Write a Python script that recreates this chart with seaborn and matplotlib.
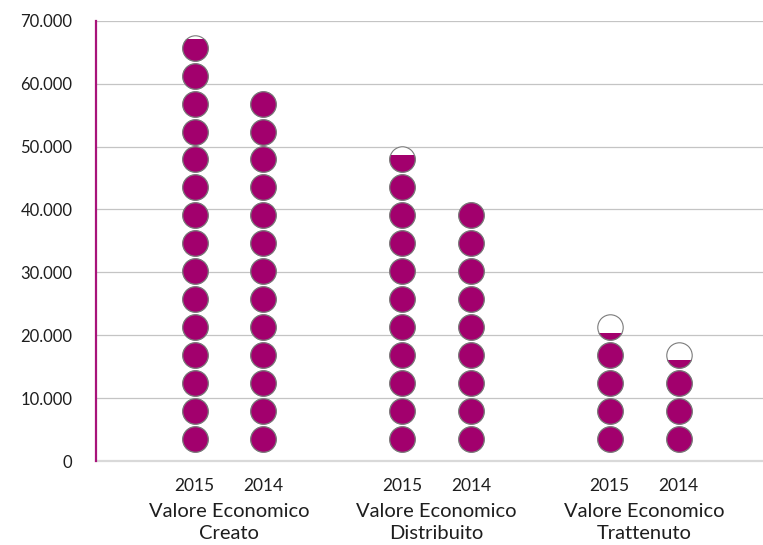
import numpy as np
import pandas as pd
import matplotlib
matplotlib.use("Agg")
import matplotlib.pyplot as plt
from matplotlib.patches import Rectangle
import seaborn as sns

# ---- data ----
groups = ["Valore Economico\nCreato", "Valore Economico\nDistribuito", "Valore Economico\nTrattenuto"]
years = ["2015", "2014"]
values_2015 = [67100, 48600, 20300]
values_2014 = [59000, 41200, 16000]
y_ticks = [0, 10000, 20000, 30000, 40000, 50000, 60000, 70000]
y_tick_labels = ["0", "10.000", "20.000", "30.000", "40.000", "50.000", "60.000", "70.000"]

# ---- style ----
sns.set_theme(style="white")
plt.rcParams["font.family"] = ["Lato", "DejaVu Sans"]
FILL = "#a2006d"
EDGE = "#7a7a7a"
TEXT = "#1e1e1e"
UNIT = 4444.4          # value spacing between stacked circles
FIRST = 3490.0         # centre of the first circle
RADIUS = 2110.0        # circle radius in value units
MSIZE = 335            # marker area (pt^2)
YEAR_OFFSET = {"2015": -0.166, "2014": 0.166}

rows = []
for gi, g in enumerate(groups):
    for yr, vals in (("2015", values_2015), ("2014", values_2014)):
        v = vals[gi]
        k = 0
        while FIRST + k * UNIT - RADIUS < v:
            rows.append({"group": g, "year": yr, "bar": f"{gi}-{yr}",
                         "x": gi + YEAR_OFFSET[yr], "y": FIRST + k * UNIT, "value": v})
            k += 1
df = pd.DataFrame(rows)

fig = plt.figure(figsize=(7.63, 5.45), dpi=100)
ax = fig.add_axes([96 / 763, 84 / 545, 1 - 96 / 763, (461 - 20.7) / 545])

# white background circles with edge
sns.scatterplot(data=df, x="x", y="y", s=MSIZE, color="white", edgecolor=EDGE,
                linewidth=0.8, ax=ax, zorder=3, legend=False)

# filled circles clipped at each bar's value
for bar, sub in df.groupby("bar"):
    sns.scatterplot(data=sub, x="x", y="y", s=MSIZE, color=FILL, edgecolor=EDGE,
                    linewidth=0.8, ax=ax, zorder=4, legend=False)
    coll = ax.collections[-1]
    x0 = sub["x"].iloc[0]
    rect = Rectangle((x0 - 0.3, 0), 0.6, sub["value"].iloc[0], transform=ax.transData)
    coll.set_clip_path(rect)

ax.set_xlim(-0.641, 2.573)
ax.set_ylim(0, 70000)
ax.set_yticks(y_ticks)
ax.set_yticklabels(y_tick_labels, fontsize=12, color=TEXT)
xt = [gi + YEAR_OFFSET[yr] for gi in range(len(groups)) for yr in years]
xl = [yr for gi in range(len(groups)) for yr in years]
ax.set_xticks(xt)
ax.set_xticklabels(xl, fontsize=12.5, color=TEXT)
ax.tick_params(axis="y", length=0, pad=17)
ax.tick_params(axis="x", length=0, pad=12)
ax.set_xlabel("")
ax.set_ylabel("")

ax.yaxis.grid(True, color="#c4c4c4", linewidth=0.9, zorder=0)
ax.xaxis.grid(False)
for s in ("top", "right"):
    ax.spines[s].set_visible(False)
ax.spines["left"].set_color("#a8137a")
ax.spines["left"].set_linewidth(1.6)
ax.spines["bottom"].set_color("#d9d9d9")
ax.spines["bottom"].set_linewidth(1.6)
ax.spines["left"].set_zorder(6)

for gi, g in enumerate(groups):
    ax.annotate(g, xy=(gi, 0), xycoords=("data", "axes fraction"),
                xytext=(0, -30.5), textcoords="offset points", ha="center", va="top",
                fontsize=14.5, color=TEXT, linespacing=1.3)

fig.savefig("out.png", dpi=100)
